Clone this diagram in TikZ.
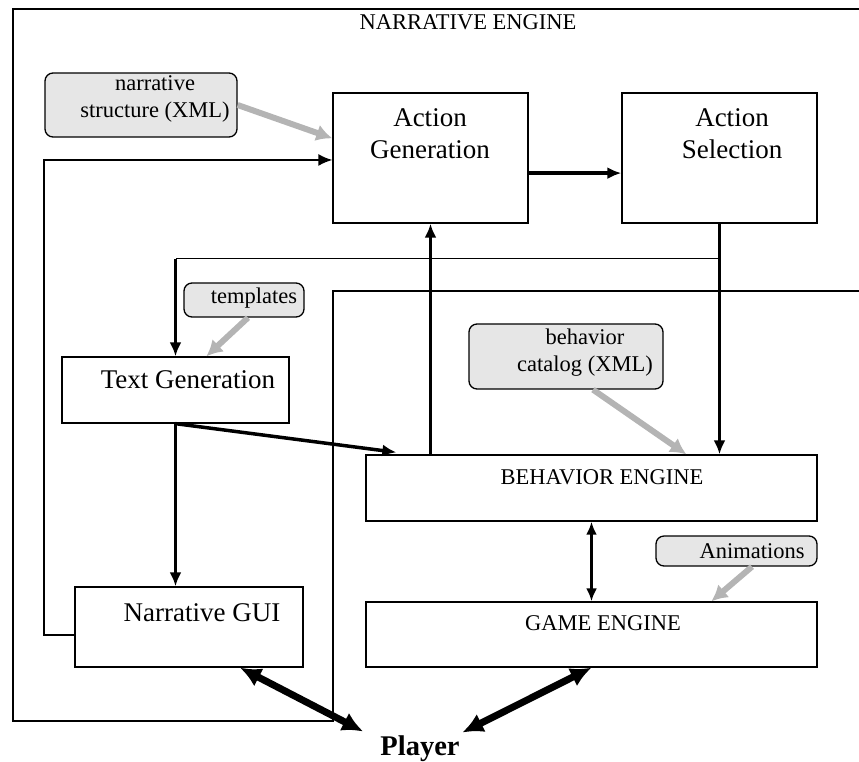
\documentclass[tikz,border=0pt]{standalone}
\usepackage{fontspec}
\setmainfont{Liberation Serif}
\usepackage{tikz}
\usetikzlibrary{calc,shapes,arrows.meta}

\definecolor{srcfill}{RGB}{230,230,230}
\definecolor{srcline}{RGB}{180,180,180}
\newcommand{\lblbig}{\fontsize{27}{32}\selectfont}
\newcommand{\lblsmall}{\fontsize{22.5}{27}\selectfont}
\newcommand{\lblplayer}{\fontsize{28.5}{34}\selectfont\bfseries}

\begin{document}
\begin{tikzpicture}[x=1pt,y=-1pt,
  frame/.style={line width=1.3pt},
  blk/.style={draw,line width=1.3pt,inner sep=0pt},
  src/.style={draw,line width=1.3pt,fill=srcfill,rounded corners=8pt,inner sep=0pt},
  txt/.style={inner sep=0pt,align=center},
  flow/.style={line width=3.5pt,-{Latex[length=14pt,width=12pt]}},
  loop/.style={line width=1.8pt,-{Latex[length=14pt,width=12pt]}},
  duplex/.style={line width=3.5pt,{Latex[length=13pt,width=11pt]}-{Latex[length=13pt,width=11pt]}},
  srcarrow/.style={line width=6pt,srcline,-{Latex[length=16pt,width=17pt]}},
  player/.style={line width=7pt,{Latex[length=21pt,width=20pt]}-{Latex[length=21pt,width=20pt]}}]
  \useasboundingbox (0,0) rectangle (859,761);

  %% Narrative engine frame, behavior part cut out
  \draw[frame] (859,9) -- (13,9) -- (13,721) -- (333,721) -- (333,291) -- (859,291);
  \node[txt,font=\lblsmall] (NE) at (468,22) {NARRATIVE ENGINE};

  %% Boxes
  \node[blk,minimum width=195pt,minimum height=130pt] (AG) at (430.5,158) {};
  \node[txt,font=\lblbig] (AGt) at (430,134) {Action\\Generation};
  \node[blk,minimum width=195pt,minimum height=130pt] (AS) at (719.5,158) {};
  \node[txt,font=\lblbig] (ASt) at (732,134) {Action\\Selection};
  \node[src,minimum width=192pt,minimum height=64pt] (NS) at (141,105) {};
  \node[txt,font=\lblsmall] (NSt) at (155,99) {narrative\\structure (XML)};
  \node[src,minimum width=120pt,minimum height=34pt] (TP) at (244,300) {};
  \node[txt,font=\lblsmall] (TPt) at (254,298) {templates};
  \node[blk,minimum width=227pt,minimum height=66pt] (TG) at (175.5,390) {};
  \node[txt,font=\lblbig] (TGt) at (188,380) {Text Generation};
  \node[src,minimum width=194pt,minimum height=65pt] (BC) at (566,356.5) {};
  \node[txt,font=\lblsmall] (BCt) at (585,353) {behavior\\catalog (XML)};
  \node[blk,minimum width=451pt,minimum height=66pt] (BE) at (591.5,488) {};
  \node[txt,font=\lblsmall] (BEt) at (602,477) {BEHAVIOR ENGINE};
  \node[src,minimum width=161pt,minimum height=30pt] (AN) at (736.5,551) {};
  \node[txt,font=\lblsmall] (ANt) at (752,551) {Animations};
  \node[blk,minimum width=451pt,minimum height=65pt] (GE) at (591.5,634.5) {};
  \node[txt,font=\lblsmall] (GEt) at (603,623) {GAME ENGINE};
  \node[blk,minimum width=228pt,minimum height=80pt] (GUI) at (189,627) {};
  \node[txt,font=\lblbig] (GUIt) at (202,613) {Narrative GUI};
  \node[txt,font=\lblplayer,anchor=base] (PL) at (420,755) {Player};

  %% Gray input arrows
  \draw[srcarrow] (NS.east) -- ($(AG.north west)!0.35!(AG.south west)$);
  \draw[srcarrow] ($(TP.south)+(4,0)$) -- ($(TG.north west)+(145,0)$);
  \draw[srcarrow] ($(BC.south)+(27,0)$) -- ($(BE.north west)+(321,0)$);
  \draw[srcarrow] ($(AN.south)+(15.5,0)$) -- ($(GE.north west)+(346,0)$);

  %% Control flow
  \draw[flow] ($(AG.north east)!0.615!(AG.south east)$) -- ($(AS.north west)!0.615!(AS.south west)$);
  \draw[flow] (AS.south) -- (AS.south |- BE.north);
  \coordinate (SPL) at ($(AS.south)+(0,35)$);
  \draw[frame] (SPL) -- (SPL -| TG.north);
  \draw[flow] (SPL -| TG.north) -- (TG.north);
  \draw[flow] (BE.north -| AG.south) -- (AG.south);
  \draw[flow] (TG.south) -- ($(BE.north west)+(31,-2)$);
  \draw[flow] (TG.south) -- (TG.south |- GUI.north);
  \draw[duplex] (BE.south) -- (GE.north);

  %% Feedback from the GUI
  \coordinate (FB) at ($(AG.north west)!0.515!(AG.south west)$);
  \draw[loop] ($(GUI.north west)!0.6!(GUI.south west)$) -- ++(-30,0) |- (FB);

  %% Player
  \draw[player] ($(GUI.south)+(51,0)$) -- ($(PL.north west)+(-17,-3.5)$);
  \draw[player] (GE.south) -- ($(PL.north east)+(2.5,-2.5)$);
\end{tikzpicture}
\end{document}
